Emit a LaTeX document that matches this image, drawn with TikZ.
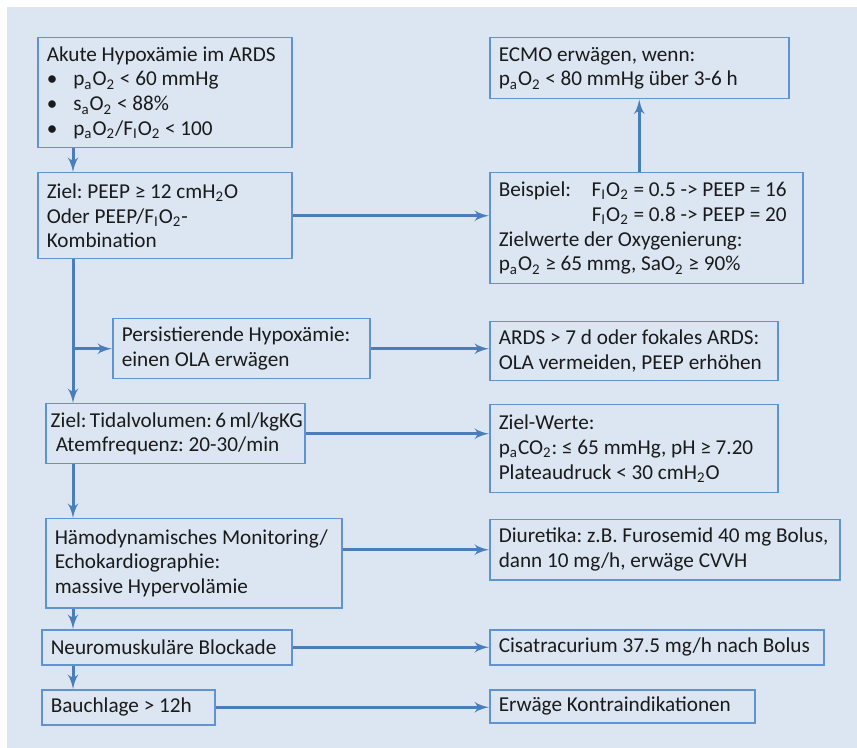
\documentclass[tikz,border=0pt]{standalone}
\usepackage{fontspec}
\setmainfont{Carlito}
\usepackage{xcolor}
\usepackage{tikz}
\usetikzlibrary{arrows}
\usetikzlibrary{calc}

\definecolor{bgblue}{HTML}{DCE6F2}
\definecolor{boxblue}{HTML}{5F93D1}
\definecolor{arrowblue}{HTML}{4A7EBB}
\definecolor{textgray}{HTML}{1A1A1A}

\newcommand{\sub}[1]{\textsubscript{#1}}
\newcommand{\FiO}{F\sub{I}O\sub{2}}
\frenchspacing
\hyphenpenalty=10000
\exhyphenpenalty=10000

\tikzset{
    box/.style={draw=boxblue, line width=0.75pt, anchor=north west,
                align=left, inner xsep=4.5pt, inner ysep=2pt,
                text=textgray, font=\fontsize{10.6}{12.4}\selectfont,
                execute at begin node={\spaceskip=0pt\xspaceskip=0pt\relax}},
    flow/.style={->, draw=arrowblue, line width=1.5pt}
}

\begin{document}
\begin{tikzpicture}[x=0.5pt,y=-0.5pt,>=latex']
                % Background
                \useasboundingbox (0,0) rectangle (857,748);
                \fill[bgblue] (7,7) rectangle (857,748);

                % Left column
                \node[box, text width=118pt, minimum height=55pt] (hypox) at (37,37)
                    {Akute Hypoxämie im ARDS\\
                     \textbullet\hspace{8pt}p\sub{a}O\sub{2} < 60 mmHg\\
                     \textbullet\hspace{8pt}s\sub{a}O\sub{2} < 88\%\\
                     \textbullet\hspace{8pt}p\sub{a}O\sub{2}/\FiO{} < 100};
                \node[box, text width=118pt, minimum height=43pt] (peep) at (37,172)
                    {Ziel: PEEP ≥ 12 cmH\sub{2}O\\Oder PEEP/\FiO-\\Kombination};
                \node[box, text width=119.5pt, minimum height=30pt] (ola) at (112,318)
                    {Persistierende Hypoxämie:\\einen OLA erwägen};
                \node[box, text width=127.5pt, inner xsep=1pt, minimum height=30pt] (tidal) at (45,403)
                    {\hspace*{1.5pt}Ziel: Tidalvolumen: 6 ml/kgKG\\\hspace*{4pt}Atemfrequenz: 20-30/min};
                \node[box, text width=139pt, minimum height=44.5pt] (haemo) at (45,518)
                    {Hämodynamisches Monitoring/\\Echokardiographie:\\massive Hypervolämie};
                \node[box, text width=116pt, minimum height=17.5pt] (nmb) at (41,629)
                    {Neuromuskuläre Blockade};
                \node[box, text width=77.5pt, minimum height=17.5pt] (prone) at (41,689)
                    {Bauchlage > 12h};

                % Right column
                \node[box, text width=140.5pt, minimum height=30.5pt] (ecmo) at (489,37)
                    {ECMO erwägen, wenn:\\p\sub{a}O\sub{2} < 80 mmHg über 3-6 h};
                \node[box, text width=147.5pt, minimum height=55.5pt] (example) at (489,172)
                    {\makebox[46.5pt][l]{Beispiel:}\FiO{} = 0.5 -> PEEP = 16\\
                     \hspace*{46.5pt}\FiO{} = 0.8 -> PEEP = 20\\
                     Zielwerte der Oxygenierung:\\
                     p\sub{a}O\sub{2} ≥ 65 mmg, SaO\sub{2} ≥ 90\%};
                \node[box, text width=135pt, minimum height=29.5pt] (noola) at (489,321)
                    {ARDS > 7 d oder fokales ARDS:\\OLA vermeiden, PEEP erhöhen};
                \node[box, text width=135pt, minimum height=44pt] (targets) at (489,404)
                    {Ziel-Werte:\\p\sub{a}CO\sub{2}: ≤ 65 mmHg, pH ≥ 7.20\\Plateaudruck < 30 cmH\sub{2}O};
                \node[box, text width=166pt, minimum height=30pt] (diur) at (489,519)
                    {Diuretika: z.B. Furosemid 40 mg Bolus,\\dann 10 mg/h, erwäge CVVH};
                \node[box, text width=158pt, minimum height=17.5pt] (cisa) at (489,629)
                    {Cisatracurium 37.5 mg/h nach Bolus};
                \node[box, text width=123.5pt, minimum height=16.5pt] (contra) at (489,689)
                    {Erwäge Kontraindikationen};

                % Main line on the left
                \coordinate (spine) at (73,0);
                \draw[flow] (hypox.south -| spine) -- (peep.north -| spine);
                \draw[flow] (peep.south -| spine) -- (tidal.north -| spine);
                \draw[flow] (ola.west -| spine) -- (ola.west);
                \draw[flow] (tidal.south -| spine) -- (haemo.north -| spine);
                \draw[flow] (haemo.south -| spine) -- (nmb.north -| spine);
                \draw[flow] (nmb.south -| spine) -- (prone.north -| spine);

                % Links to the right
                \draw[flow] (peep.east) -- (example.west |- peep.east);
                \draw[flow] (example.north -| ecmo.south) -- (ecmo.south);
                \draw[flow] (ola.east) -- (noola.west |- ola.east);
                \draw[flow] (tidal.east) -- (targets.west |- tidal.east);
                \draw[flow] (haemo.east |- diur.west) -- (diur.west);
                \draw[flow] (nmb.east) -- (cisa.west |- nmb.east);
                \draw[flow] (prone.east) -- (contra.west |- prone.east);

            \end{tikzpicture}
\end{document}
